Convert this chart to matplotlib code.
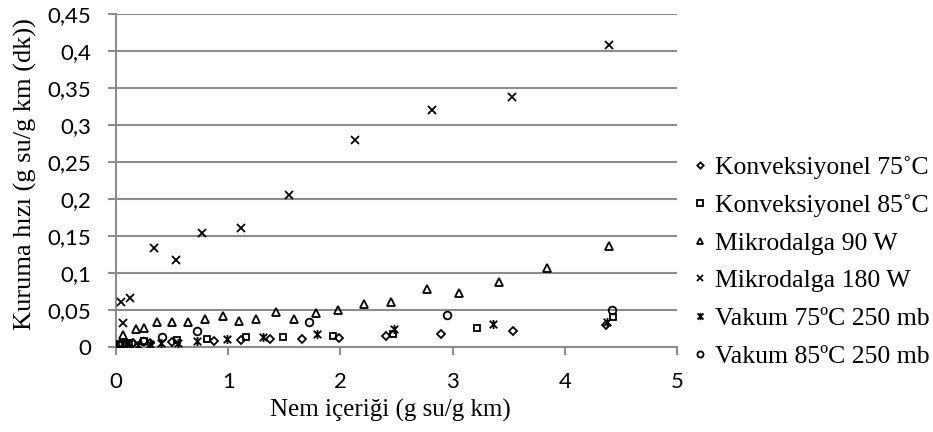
import matplotlib
matplotlib.use("Agg")
import matplotlib.pyplot as plt
from matplotlib.path import Path
import numpy as np

# ---- data ----
konv75_x = [0.05, 0.15, 0.30, 0.50, 0.87, 1.11, 1.37, 1.66, 1.99, 2.41, 2.90, 3.54, 4.37]
konv75_y = [0.004, 0.005, 0.006, 0.007, 0.008, 0.009, 0.011, 0.011, 0.012, 0.015, 0.017, 0.022, 0.030]

konv85_x = [0.04, 0.12, 0.25, 0.54, 0.81, 1.16, 1.49, 1.93, 2.47, 3.22, 4.43]
konv85_y = [0.004, 0.006, 0.008, 0.010, 0.011, 0.013, 0.013, 0.015, 0.018, 0.026, 0.040]

mik90_x = [0.06, 0.18, 0.25, 0.37, 0.50, 0.64, 0.79, 0.95, 1.10, 1.25, 1.43, 1.59, 1.78,
           1.98, 2.21, 2.45, 2.77, 3.06, 3.41, 3.84, 4.39]
mik90_y = [0.016, 0.024, 0.026, 0.034, 0.034, 0.034, 0.038, 0.042, 0.035, 0.038, 0.047, 0.038,
           0.046, 0.050, 0.058, 0.061, 0.078, 0.073, 0.088, 0.107, 0.137]

mik180_x = [0.045, 0.06, 0.125, 0.34, 0.535, 0.77, 1.115, 1.545, 2.13, 2.82, 3.53, 4.39]
mik180_y = [0.061, 0.032, 0.066, 0.134, 0.118, 0.154, 0.161, 0.205, 0.280, 0.320, 0.338, 0.408]

vak75_x = [0.10, 0.20, 0.30, 0.40, 0.55, 0.72, 0.99, 1.31, 1.79, 2.48, 3.36, 4.38]
vak75_y = [0.004, 0.003, 0.004, 0.005, 0.006, 0.008, 0.011, 0.013, 0.017, 0.024, 0.031, 0.034]

vak85_x = [0.03, 0.08, 0.13, 0.24, 0.41, 0.72, 1.72, 2.95, 4.42]
vak85_y = [0.003, 0.005, 0.006, 0.008, 0.013, 0.022, 0.034, 0.043, 0.050]

labels = ["Konveksiyonel 75\u02daC", "Konveksiyonel 85\u02daC", "Mikrodalga 90 W",
          "Mikrodalga 180 W", "Vakum 75\u00baC 250 mb", "Vakum 85\u00baC 250 mb"]

x_ticks = [0, 1, 2, 3, 4, 5]
y_ticks = [0, 0.05, 0.1, 0.15, 0.2, 0.25, 0.3, 0.35, 0.4, 0.45]
y_ticklabels = ["0", "0,05", "0,1", "0,15", "0,2", "0,25", "0,3", "0,35", "0,4", "0,45"]

# Excel-like "star" marker: x plus vertical bar
star = Path([(-1, -1), (1, 1), (-1, 1), (1, -1), (0, -1.2), (0, 1.2)],
            [Path.MOVETO, Path.LINETO, Path.MOVETO, Path.LINETO, Path.MOVETO, Path.LINETO])

fig = plt.figure(figsize=(9.33, 4.32), dpi=100)
ax = fig.add_axes([0.1243, 0.1968, 0.6013, 0.7708])

tick_font = "Lato"
serif = "Liberation Serif"

series = [
    (konv75_x, konv75_y, "D", 4.0),
    (konv85_x, konv85_y, "s", 5.0),
    (mik90_x, mik90_y, "^", 5.5),
    (mik180_x, mik180_y, "x", 5.5),
    (vak75_x, vak75_y, star, 6.5),
    (vak85_x, vak85_y, "o", 5.5),
]

handles = []
for (xs, ys, m, ms), lab in zip(series, labels):
    h, = ax.plot(xs, ys, linestyle="none", marker=m, markersize=ms,
                 markerfacecolor="none" if m != "x" else "black",
                 markeredgecolor="black", markeredgewidth=1.3, label=lab, zorder=3)
    handles.append(h)

ax.set_xlim(0, 5)
ax.set_ylim(0, 0.45)
ax.set_xticks(x_ticks)
ax.set_xticklabels([str(t) for t in x_ticks], fontname=tick_font, fontsize=16)
ax.set_yticks(y_ticks)
ax.set_yticklabels(y_ticklabels, fontname=tick_font, fontsize=16)

ax.yaxis.grid(True, color="#8c8c8c", linewidth=1.5, zorder=0)
ax.set_axisbelow(True)
for s in ["top", "right"]:
    ax.spines[s].set_visible(False)
for s in ["left", "bottom"]:
    ax.spines[s].set_color("#8c8c8c")
    ax.spines[s].set_linewidth(1.5)
ax.tick_params(axis="both", colors="#8c8c8c", width=1.5, length=6, labelcolor="black")
ax.tick_params(axis="x", pad=12)
ax.tick_params(axis="y", pad=12)

ax.set_xlabel("Nem içeriği (g su/g km)", fontname=serif, fontsize=18)
ax.set_ylabel("Kuruma hızı (g su/g km (dk))", fontname=serif, fontsize=19)
ax.xaxis.set_label_coords(0.49, -0.155)
ax.yaxis.set_label_coords(-0.141, 0.52)

leg = fig.legend(handles=handles, labels=labels, loc="center left",
                 bbox_to_anchor=(0.717, 0.3935), frameon=False,
                 prop={"family": serif, "size": 18.5}, handlelength=0.6,
                 handletextpad=0.3, labelspacing=0.575, markerscale=0.8)

fig.savefig("out.png", dpi=100)
